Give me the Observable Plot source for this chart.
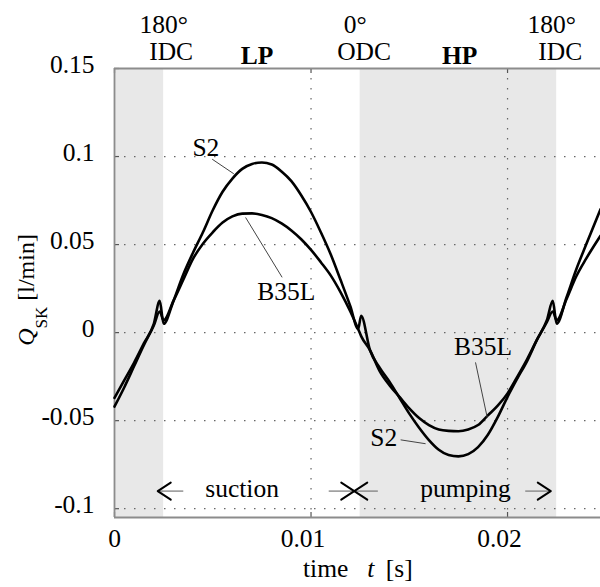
<!DOCTYPE html>
<html>
<head>
<meta charset="utf-8">
<script src="https://cdn.jsdelivr.net/npm/d3@7"></script>
<script src="https://cdn.jsdelivr.net/npm/@observablehq/plot@0.6"></script>
<style>
  html, body { margin: 0; padding: 0; background: #fff; }
  #chart { width: 600px; height: 587px; }
</style>
</head>
<body>
<div id="chart"></div>
<script>
// ---- data (time in s, flow Q_SK in l/min) ----
const time = [
  0, 0.0005, 0.001, 0.0015, 0.002, 0.0023, 0.0025, 0.003, 0.0035, 0.004,
  0.0045, 0.005, 0.0055, 0.006, 0.0065, 0.007, 0.0075, 0.008, 0.0085, 0.009,
  0.0095, 0.01, 0.0105, 0.011, 0.0115, 0.012, 0.0124, 0.01255, 0.013, 0.0135,
  0.014, 0.0145, 0.015, 0.0155, 0.016, 0.0165, 0.017, 0.0175, 0.018, 0.0185,
  0.019, 0.0195, 0.02, 0.0205, 0.021, 0.0215, 0.022, 0.0223, 0.0225, 0.023,
  0.0235, 0.024, 0.02473
];
const seriesS2 = [
  -0.037, -0.027, -0.017, -0.006, 0.005, 0.018, 0.005, 0.018, 0.033, 0.0455,
  0.057, 0.0695, 0.080, 0.0875, 0.093, 0.0958, 0.0966, 0.0955, 0.0915, 0.086,
  0.078, 0.0685, 0.057, 0.0445, 0.030, 0.015, 0.002, 0.0096, -0.010, -0.020,
  -0.028, -0.037, -0.046, -0.054, -0.061, -0.0665, -0.0695, -0.0703, -0.069, -0.065,
  -0.058, -0.048, -0.0365, -0.026, -0.016, -0.004, 0.007, 0.018, 0.005, 0.020,
  0.036, 0.050, 0.070
];
const seriesB35L = [
  -0.042, -0.031, -0.019, -0.007, 0.004, 0.012, 0.007, 0.018, 0.030, 0.042,
  0.0505, 0.057, 0.0625, 0.066, 0.0676, 0.0677, 0.0668, 0.065, 0.062, 0.058,
  0.053, 0.047, 0.040, 0.0325, 0.023, 0.012, 0.002, -0.002, -0.010, -0.022,
  -0.030, -0.0365, -0.043, -0.0485, -0.0525, -0.055, -0.0558, -0.056, -0.055, -0.0525,
  -0.047, -0.0415, -0.0345, -0.025, -0.015, -0.004, 0.006, 0.012, 0.007, 0.019,
  0.032, 0.042, 0.055
];

// shaded phases
const bandStart = [0, 0.0125];
const bandEnd = [0.0025, 0.0225];

// axes
const xDomain = [0, 0.02473];
const yDomain = [-0.105, 0.15];
const xTicks = [0, 0.01, 0.02];
const xTickLabels = ["0", "0.01", "0.02"];
const yTicks = [-0.1, -0.05, 0, 0.05, 0.1, 0.15];
const yTickLabels = ["-0.1", "-0.05", "0", "0.05", "0.1", "0.15"];
const xGrid = [0.01, 0.02];
const yGrid = [-0.1, -0.05, 0, 0.05, 0.1];

// top annotations
const crankAngles = ["180°", "0°", "180°"];
const crankAngleAt = [0.0025, 0.01225, 0.02225];
const deadCentres = ["IDC", "ODC", "IDC"];
const deadCentreAt = [0.00288, 0.0127, 0.02268];
const phases = ["LP", "HP"];
const phaseAt = [0.00725, 0.01756];

// curve labels with leader lines
const curveLabels = ["S2", "B35L", "B35L", "S2"];
const curveLabelT = [0.00465, 0.00874, 0.01875, 0.0137];
const curveLabelQ = [0.1052, 0.0229, -0.0079, -0.0598];
const leaderT1 = [0.00497, 0.00853, 0.01837, 0.01456];
const leaderQ1 = [0.0985, 0.0314, -0.0169, -0.0609];
const leaderT2 = [0.00607, 0.00667, 0.01897, 0.01583];
const leaderQ2 = [0.0902, 0.0654, -0.0484, -0.0631];

// stroke phases with arrows
const strokeNames = ["suction", "pumping"];
const strokeNameAt = [0.00649, 0.01786];
const strokeNameQ = -0.0889;
const arrowTail = [0.0035, 0.0109, 0.0134, 0.0209];
const arrowTip = [0.0022, 0.0122, 0.0122, 0.0222];
const arrowQ = -0.090;

// ---- build tables ----
const table = time.flatMap((t, i) => [
  {t, q: seriesS2[i], series: "S2"},
  {t, q: seriesB35L[i], series: "B35L"}
]);
const bands = bandStart.map((s, i) => ({s, e: bandEnd[i]}));
const angleData = crankAngles.map((label, i) => ({label, t: crankAngleAt[i]}));
const centreData = deadCentres.map((label, i) => ({label, t: deadCentreAt[i]}));
const phaseData = phases.map((label, i) => ({label, t: phaseAt[i]}));
const yTickData = yTicks.map((v, i) => ({v, label: yTickLabels[i]}));
const xTickData = xTicks.map((v, i) => ({v, label: xTickLabels[i]}));
const curveLabelData = curveLabels.map((label, i) => ({label, t: curveLabelT[i], q: curveLabelQ[i]}));
const leaderData = leaderT1.map((t1, i) => ({t1, q1: leaderQ1[i], t2: leaderT2[i], q2: leaderQ2[i]}));
const strokeData = strokeNames.map((label, i) => ({label, t: strokeNameAt[i], q: strokeNameQ}));
const arrowData = arrowTail.map((tail, i) => ({tail, tip: arrowTip[i], q: arrowQ}));

const FONT = "Liberation Serif, Times New Roman, Times, serif";
const FS = 25.5;
const W = 600, H = 587, ML = 114, MR = 0, MT = 68, MB = 70;
const innerW = W - ML - MR, innerH = H - MT - MB;

const chevron = {
  draw(ctx) { ctx.moveTo(-8.5, 13); ctx.lineTo(0, 0); ctx.lineTo(8.5, 13); }
};

const gridStyle = {stroke: "#666", strokeWidth: 1.2, strokeDasharray: "1.5 8.5"};
const tickStyle = {stroke: "#555", strokeWidth: 1.2};

const plot = Plot.plot({
  width: W, height: H,
  marginLeft: ML, marginRight: MR, marginTop: MT, marginBottom: MB,
  x: {domain: xDomain, axis: null},
  y: {domain: yDomain, axis: null},
  style: {fontFamily: FONT, fontSize: FS + "px", background: "#fff", color: "#000", overflow: "visible"},
  marks: [
    Plot.rect(bands, {x1: "s", x2: "e", y1: yDomain[0], y2: yDomain[1], fill: "#e8e8e8"}),
    Plot.ruleX(xGrid, gridStyle),
    Plot.ruleY(yGrid, gridStyle),
    Plot.ruleY(yTicks, {...tickStyle, insetRight: innerW - 5}),
    Plot.ruleX(xTicks, {...tickStyle, insetTop: innerH - 5}),
    Plot.ruleX(xTicks, {...tickStyle, insetBottom: innerH - 5}),
    Plot.ruleX([xDomain[0]], {stroke: "#8c8c8c", strokeWidth: 1.8}),
    Plot.ruleY(yDomain, {stroke: "#8c8c8c", strokeWidth: 1.8}),
    Plot.line(table, {x: "t", y: "q", z: "series", stroke: "#000", strokeWidth: 2.6, curve: "monotone-x"}),
    Plot.link(leaderData, {x1: "t1", y1: "q1", x2: "t2", y2: "q2", stroke: "#444", strokeWidth: 1}),
    Plot.text(curveLabelData, {x: "t", y: "q", text: "label", fill: "#000", ariaLabel: "boxed"}),
    Plot.link(arrowData, {x1: "tail", x2: "tip", y1: "q", y2: "q", stroke: "#777", strokeWidth: 1.2}),
    Plot.vector(arrowData, {x: "tip", y: "q", rotate: d => d.tail > d.tip ? -90 : 90, shape: chevron, anchor: "start", stroke: "#000", strokeWidth: 2}),
    Plot.text(strokeData, {x: "t", y: "q", text: "label", fill: "#000", ariaLabel: "boxed"}),
    // tick labels
    Plot.text(yTickData, {y: "v", text: "label", frameAnchor: "left", textAnchor: "end", dx: -20, dy: -4, fill: "#000"}),
    Plot.text(xTickData.slice(0, 1), {x: "v", text: "label", frameAnchor: "bottom", dy: 29, fill: "#000"}),
    Plot.text(xTickData.slice(1), {x: "v", text: "label", frameAnchor: "bottom", dy: 29, dx: -8, fill: "#000"}),
    // top annotations
    Plot.text(angleData, {x: "t", text: "label", frameAnchor: "top", dy: -53.5, fill: "#000"}),
    Plot.text(centreData, {x: "t", text: "label", frameAnchor: "top", dy: -26.5, fill: "#000"}),
    Plot.text(phaseData, {x: "t", text: "label", frameAnchor: "top", dy: -22.5, fontWeight: "bold", fill: "#000"})
  ]
});

document.getElementById("chart").appendChild(plot);

// white boxes behind boxed labels
const svgNS = "http://www.w3.org/2000/svg";
plot.querySelectorAll('g[aria-label="boxed"] text').forEach(function(el) {
  const bb = el.getBBox();
  const r = document.createElementNS(svgNS, "rect");
  r.setAttribute("x", bb.x - 2);
  r.setAttribute("y", bb.y);
  r.setAttribute("width", bb.width + 4);
  r.setAttribute("height", bb.height);
  r.setAttribute("fill", "#fff");
  r.setAttribute("stroke", "none");
  const tr = el.getAttribute("transform");
  if (tr) r.setAttribute("transform", tr);
  el.parentNode.insertBefore(r, el);
});

// axis titles
const svg = d3.select(plot);
const yl = svg.append("text")
  .attr("transform", "translate(34,290) rotate(-90)")
  .attr("text-anchor", "middle")
  .attr("font-family", FONT).attr("font-size", 24).attr("fill", "#000");
yl.append("tspan").attr("font-style", "italic").text("Q");
yl.append("tspan").attr("font-size", 17).attr("dy", 13).text("SK");
yl.append("tspan").attr("dy", -13).text("\u00a0[l/min]");

const xl = svg.append("text")
  .attr("x", 303).attr("y", 577)
  .attr("text-anchor", "start")
  .attr("font-family", FONT).attr("font-size", FS).attr("fill", "#000");
xl.append("tspan").text("time");
xl.append("tspan").attr("dx", 19).attr("font-style", "italic").text("t");
xl.append("tspan").attr("dx", 5).text("\u00a0[s]");
</script>
</body>
</html>
